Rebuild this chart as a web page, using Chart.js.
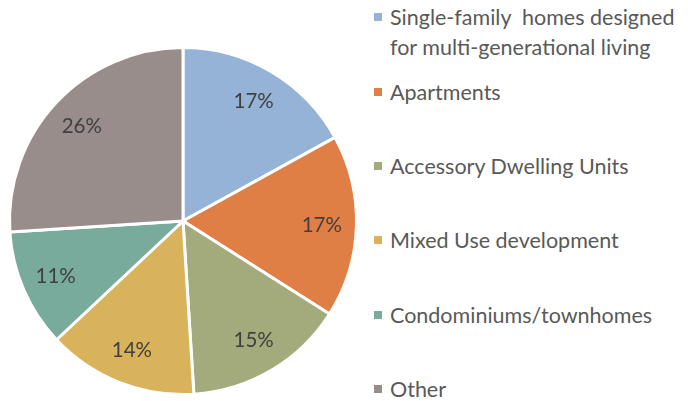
<!DOCTYPE html>
<html>
<head>
<meta charset="utf-8">
<script src="https://cdn.jsdelivr.net/npm/chart.js@4.4.1/dist/chart.umd.min.js"></script>
<style>
  body { margin: 0; background: #fff; width: 688px; height: 401px; overflow: hidden; position: relative; }
  #pieBox { position: absolute; left: 0; top: 0; width: 366px; height: 401px; }
  #legend { position: absolute; left: 0; top: 0; font-family: Lato, sans-serif; font-size: 21.5px; color: #595959; }
  .item { position: absolute; left: 374px; width: 320px; line-height: 30px; padding-left: 16px; white-space: pre; }
  .item span.box { position: absolute; left: 0; top: 11px; width: 8px; height: 8px; }
</style>
</head>
<body>
<div id="pieBox"><canvas id="pieChart"></canvas></div>
<div id="legend"></div>
<script>
const labels = [
  "Single-family  homes designed\nfor multi-generational living",
  "Apartments",
  "Accessory Dwelling Units",
  "Mixed Use development",
  "Condominiums/townhomes",
  "Other"
];
const shares = [17, 17, 15, 14, 11, 26];
const colors = ["#95B3D7", "#E07F45", "#A3AA7C", "#D9B35B", "#79AB9C", "#988D8A"];
const legendTops = [2, 77, 151, 225, 300, 374];

// percent labels inside each slice
const sliceLabels = {
  id: "sliceLabels",
  afterDatasetsDraw(chart) {
    const ctx = chart.ctx;
    const meta = chart.getDatasetMeta(0);
    ctx.save();
    ctx.font = "20.5px Lato, sans-serif";
    ctx.fillStyle = "#404040";
    ctx.textAlign = "center";
    ctx.textBaseline = "middle";
    meta.data.forEach(function (arc, i) {
      const mid = (arc.startAngle + arc.endAngle) / 2;
      const r = arc.outerRadius * 0.8;
      ctx.fillText(shares[i] + "%", arc.x + Math.cos(mid) * r, arc.y + Math.sin(mid) * r);
    });
    ctx.restore();
  }
};

new Chart(document.getElementById("pieChart"), {
  type: "pie",
  data: {
    labels: labels,
    datasets: [{
      data: shares,
      backgroundColor: colors,
      borderColor: "#ffffff",
      borderWidth: 3
    }]
  },
  options: {
    responsive: true,
    maintainAspectRatio: false,
    animation: false,
    layout: { padding: { left: 8, right: 8, top: 45, bottom: 4 } },
    plugins: {
      legend: { display: false },
      tooltip: { enabled: false }
    }
  },
  plugins: [sliceLabels]
});

const legend = document.getElementById("legend");
labels.forEach(function (txt, i) {
  const div = document.createElement("div");
  div.className = "item";
  div.style.top = legendTops[i] + "px";
  const box = document.createElement("span");
  box.className = "box";
  box.style.background = colors[i];
  div.appendChild(box);
  div.appendChild(document.createTextNode(txt));
  legend.appendChild(div);
});
</script>
</body>
</html>
